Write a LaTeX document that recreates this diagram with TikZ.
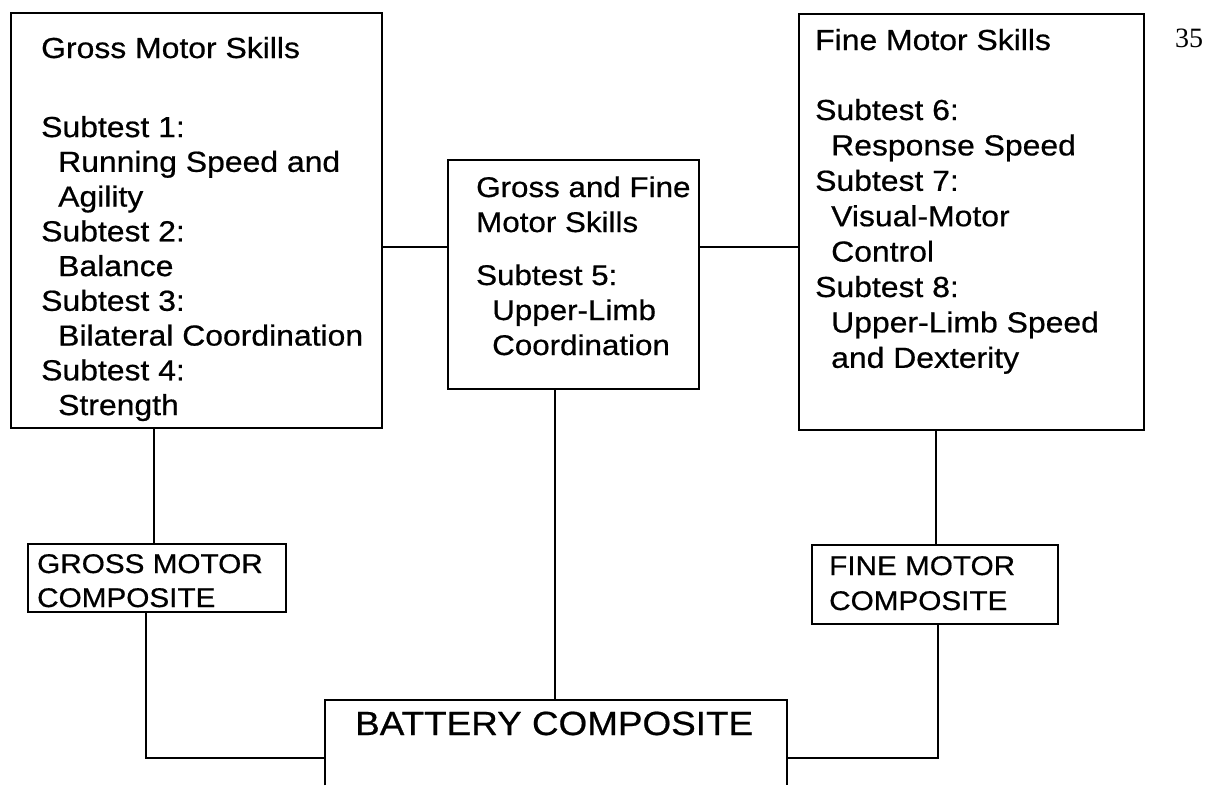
\documentclass[tikz,border=0pt]{standalone}
\usepackage{fontspec}
\setmainfont{Liberation Sans}[FakeStretch=1.1,FakeBold=0.6]
\newfontfamily\pagefont{Liberation Serif}
\newcommand\txtblock[3]{{\fontsize{#1}{#2}\selectfont\begin{tabular}[t]{@{}l@{}}#3\end{tabular}}}
\newcommand\ind{\hspace*{17pt}}
\begin{document}
\begin{tikzpicture}[x=1pt,y=-1pt,
  boxstyle/.style={draw,line width=2pt,inner sep=0pt,anchor=north west},
  txtstyle/.style={anchor=base west,inner sep=0pt},
  conn/.style={line width=1.5pt}]
\useasboundingbox (0,0) rectangle (1220,785);
% boxes
\node[boxstyle,minimum width=371pt,minimum height=415pt] (gms) at (10,12) {};
\node[boxstyle,minimum width=251pt,minimum height=229pt] (gfm) at (447,159) {};
\node[boxstyle,minimum width=345pt,minimum height=416pt] (fms) at (798,13) {};
\node[boxstyle,minimum width=258pt,minimum height=68pt] (gmc) at (27,543) {};
\node[boxstyle,minimum width=246pt,minimum height=79pt] (fmc) at (811,544) {};
\node[inner sep=0pt,anchor=north west,minimum width=462pt,minimum height=85pt] (bat) at (325,700) {};
\draw[line width=2pt] (bat.south west) -- (bat.north west) -- (bat.north east) -- (bat.south east);
% texts
\node[txtstyle] (gmstxt) at (41,58) {\txtblock{29}{34.75}{Gross Motor Skills\\[44.3pt]
Subtest 1:\\ \ind Running Speed and\\ \ind Agility\\ Subtest 2:\\ \ind Balance\\ Subtest 3:\\ \ind Bilateral Coordination\\ Subtest 4:\\ \ind Strength}};
\node[txtstyle] (gfmtxt) at (476,197) {\txtblock{28.5}{35}{Gross and Fine\\ Motor Skills\\[18pt]
Subtest 5:\\ \hspace*{16pt}Upper-Limb\\ \hspace*{16pt}Coordination}};
\node[txtstyle] (fmstxt) at (815,50) {\txtblock{29}{35.4}{Fine Motor Skills\\[34.6pt]
Subtest 6:\\ \hspace*{16pt}Response Speed\\ Subtest 7:\\ \hspace*{16pt}Visual-Motor\\ \hspace*{16pt}Control\\ Subtest 8:\\ \hspace*{16pt}Upper-Limb Speed\\ \hspace*{16pt}and Dexterity}};
\node[txtstyle] (gmctxt) at (37,573) {\txtblock{27}{34}{GROSS MOTOR\\ COMPOSITE}};
\node[txtstyle] (fmctxt) at (829,575) {\txtblock{27}{35}{FINE MOTOR\\ COMPOSITE}};
\node[txtstyle] (battxt) at (355,735) {\fontsize{33.5}{40}\selectfont BATTERY COMPOSITE};
\node[anchor=base west,inner sep=0pt] (page) at (1175,47) {\pagefont\fontsize{28}{34}\selectfont 35};
% connector guide coordinates
\coordinate (hy) at (0,247);
\coordinate (lx) at (154,0);
\coordinate (lx2) at (146,0);
\coordinate (rx) at (936,0);
\coordinate (rx2) at (938,0);
\coordinate (mx) at (555,0);
\coordinate (by) at (0,758);
% connectors
\draw[conn] (gms.east |- hy) -- (gfm.west |- hy);
\draw[conn] (gfm.east |- hy) -- (fms.west |- hy);
\draw[conn] (gms.south -| lx) -- (gmc.north -| lx);
\draw[conn] (fms.south -| rx) -- (fmc.north -| rx);
\draw[conn] (gfm.south -| mx) -- (bat.north -| mx);
\draw[conn] (gmc.south -| lx2) |- (bat.west |- by);
\draw[conn] (fmc.south -| rx2) |- (bat.east |- by);
\end{tikzpicture}
\end{document}
